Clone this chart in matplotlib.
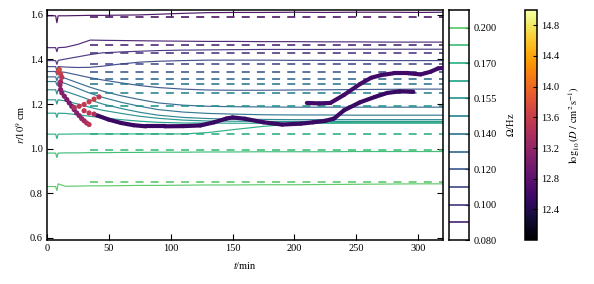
import numpy as np
import matplotlib
matplotlib.use("Agg")
import matplotlib.pyplot as plt
from matplotlib.collections import LineCollection
from matplotlib.colors import Normalize
from matplotlib.cm import ScalarMappable

plt.rcParams["font.family"] = "serif"
plt.rcParams["font.serif"] = ["Liberation Serif", "DejaVu Serif"]
plt.rcParams["mathtext.fontset"] = "stix"

# --- data ---
omega = [0.080, 0.090, 0.100, 0.110, 0.120, 0.130, 0.140, 0.1475,
         0.155, 0.1625, 0.170, 0.185, 0.200]

t_grid = [0, 7, 8, 9, 15, 25, 35, 45, 60, 75, 90, 110, 130, 150,
          175, 200, 225, 250, 275, 300, 320]

r_lines = [
    [1.596, 1.596, 1.565, 1.596, 1.596, 1.597, 1.598, 1.598, 1.599, 1.600, 1.603,
     1.607, 1.610, 1.611, 1.611, 1.612, 1.611, 1.612, 1.612, 1.611, 1.612],
    [1.453, 1.453, 1.435, 1.453, 1.455, 1.468, 1.487, 1.486, 1.485, 1.484, 1.483,
     1.482, 1.481, 1.481, 1.480, 1.480, 1.479, 1.479, 1.478, 1.478, 1.478],
    [1.395, 1.395, 1.378, 1.396, 1.402, 1.412, 1.422, 1.430, 1.434, 1.437, 1.440,
     1.442, 1.443, 1.444, 1.445, 1.445, 1.445, 1.446, 1.446, 1.446, 1.446],
    [1.368, 1.368, 1.350, 1.368, 1.366, 1.364, 1.365, 1.370, 1.380, 1.388, 1.392,
     1.395, 1.397, 1.397, 1.397, 1.396, 1.396, 1.396, 1.395, 1.395, 1.395],
    [1.346, 1.346, 1.330, 1.346, 1.342, 1.330, 1.318, 1.308, 1.295, 1.283, 1.274,
     1.267, 1.263, 1.262, 1.262, 1.263, 1.264, 1.265, 1.266, 1.267, 1.267],
    [1.322, 1.322, 1.305, 1.322, 1.315, 1.295, 1.275, 1.258, 1.237, 1.220, 1.205,
     1.195, 1.190, 1.188, 1.187, 1.186, 1.186, 1.186, 1.186, 1.186, 1.186],
    [1.301, 1.301, 1.285, 1.301, 1.292, 1.270, 1.248, 1.230, 1.208, 1.190, 1.175,
     1.164, 1.158, 1.155, 1.152, 1.151, 1.151, 1.150, 1.150, 1.150, 1.150],
    [1.264, 1.264, 1.245, 1.264, 1.257, 1.238, 1.218, 1.200, 1.180, 1.163, 1.150,
     1.140, 1.135, 1.132, 1.131, 1.130, 1.130, 1.130, 1.130, 1.130, 1.130],
    [1.219, 1.219, 1.200, 1.219, 1.214, 1.200, 1.185, 1.172, 1.158, 1.145, 1.136,
     1.128, 1.124, 1.123, 1.122, 1.122, 1.122, 1.122, 1.122, 1.122, 1.122],
    [1.159, 1.159, 1.140, 1.159, 1.158, 1.152, 1.145, 1.138, 1.130, 1.123, 1.118,
     1.115, 1.115, 1.114, 1.114, 1.114, 1.114, 1.114, 1.114, 1.114, 1.114],
    [1.065, 1.065, 1.045, 1.065, 1.065, 1.066, 1.066, 1.066, 1.066, 1.066, 1.066,
     1.066, 1.072, 1.085, 1.100, 1.111, 1.116, 1.118, 1.118, 1.118, 1.118],
    [0.980, 0.980, 0.960, 0.980, 0.981, 0.981, 0.982, 0.982, 0.983, 0.983, 0.984,
     0.984, 0.985, 0.985, 0.986, 0.986, 0.986, 0.987, 0.987, 0.987, 0.987],
    [0.830, 0.830, 0.812, 0.842, 0.831, 0.832, 0.833, 0.833, 0.834, 0.835, 0.835,
     0.836, 0.837, 0.837, 0.838, 0.838, 0.839, 0.840, 0.841, 0.842, 0.842],
]

# dashed reference radii (None where no dashed line is visible)
r_dashed = [1.590, 1.465, 1.428, 1.380, 1.344, 1.312, 1.289, 1.249, 1.192,
            None, 1.066, 0.995, 0.852]
t_dashed = [35, 320]

# early scattered points (high diffusion)
t_early = [9, 10, 11, 12, 11, 10.5, 11, 12, 14, 16, 18, 20, 22, 24, 26, 28, 30, 32, 34,
           22, 26, 30, 34, 38, 42, 30, 34, 38]
r_early = [1.345, 1.355, 1.335, 1.320, 1.300, 1.285, 1.265, 1.250, 1.235, 1.220, 1.205,
           1.190, 1.175, 1.160, 1.148, 1.135, 1.125, 1.115, 1.108,
           1.185, 1.190, 1.198, 1.210, 1.222, 1.232, 1.170, 1.160, 1.155]
logD_early = [13.65, 13.75, 13.6, 13.5, 13.3, 13.2, 13.1, 13.1, 13.05, 13.0, 13.0,
              13.0, 13.05, 13.1, 13.1, 13.2, 13.3, 13.4, 13.5,
              13.4, 13.5, 13.55, 13.6, 13.6, 13.5, 13.5, 13.5, 13.4]

# main dark track
t_track = [40, 50, 60, 70, 80, 95, 110, 124, 135, 145, 150, 160, 175, 190, 205,
           215, 225, 232, 240, 253, 265, 275, 285, 296]
r_track = [1.150, 1.130, 1.115, 1.105, 1.100, 1.100, 1.101, 1.104, 1.118, 1.135,
           1.140, 1.134, 1.118, 1.108, 1.112, 1.118, 1.125, 1.135, 1.172, 1.208,
           1.232, 1.250, 1.257, 1.255]
logD_track = [12.55] * len(t_track)

# upper late track
t_upper = [210, 220, 229, 240, 253, 262, 270, 280, 292, 302, 310, 316, 320]
r_upper = [1.205, 1.203, 1.205, 1.241, 1.290, 1.318, 1.330, 1.338, 1.338, 1.333,
           1.345, 1.360, 1.362]
logD_upper = [12.6] * len(t_upper)

# --- figure ---
fig = plt.figure(figsize=(5.94, 2.84), dpi=100)
ax = fig.add_axes([0.0791, 0.1549, 0.6667, 0.8099])
ax_om = fig.add_axes([0.7559, 0.1549, 0.0337, 0.8099])
ax_d = fig.add_axes([0.8838, 0.1549, 0.0202, 0.8099])

colors = plt.cm.viridis(np.linspace(0.03, 0.74, len(omega)))

for i, r in enumerate(r_lines):
    ax.plot(t_grid, r, color=colors[i], lw=0.85, alpha=0.95, zorder=2)
    if r_dashed[i] is not None:
        ax.plot(t_dashed, [r_dashed[i]] * 2, color=colors[i], lw=1.15,
                dashes=(5, 4.5), zorder=2)

cmap = plt.cm.inferno
norm = Normalize(12.0, 15.0)

for tt, rr, dd in [(t_track, r_track, logD_track), (t_upper, r_upper, logD_upper)]:
    pts = np.column_stack([tt, rr])
    segs = np.stack([pts[:-1], pts[1:]], axis=1)
    lc = LineCollection(segs, cmap=cmap, norm=norm, linewidths=3.0,
                        capstyle="round", joinstyle="round", zorder=3)
    lc.set_array(np.array(dd[:-1]))
    ax.add_collection(lc)

ax.scatter(t_early, r_early, c=logD_early, cmap=cmap, norm=norm, s=14,
           linewidths=0, zorder=4)

ax.set_xlim(0, 320)
ax.set_ylim(0.59, 1.622)
ax.set_xticks([0, 50, 100, 150, 200, 250, 300])
ax.set_yticks([0.6, 0.8, 1.0, 1.2, 1.4, 1.6])
ax.set_yticklabels([f"{v:.1f}" for v in [0.6, 0.8, 1.0, 1.2, 1.4, 1.6]])
ax.tick_params(direction="in", top=True, right=True, length=4, width=0.8,
               labelsize=7.5, pad=3)
ax.set_xlabel("$t$/min", fontsize=7.5, labelpad=5)
ax.set_ylabel("$r/10^9$ cm", fontsize=7.5, labelpad=2)
for s in ax.spines.values():
    s.set_linewidth(1.1)

# --- Omega legend bar ---
ax_om.set_xlim(0, 1)
ax_om.set_ylim(0, len(omega))
for i in range(1, len(omega)):
    ax_om.axhline(i, color=colors[i], lw=1.2)
ax_om.set_xticks([])
ticks = list(range(0, len(omega), 2))
ax_om.set_yticks(ticks)
ax_om.set_yticklabels([f"{omega[k]:.3f}" for k in ticks])
ax_om.yaxis.tick_right()
ax_om.yaxis.set_label_position("right")
ax_om.tick_params(direction="in", length=3, width=0.8, labelsize=7.5, pad=3)
ax_om.set_ylabel(r"$\Omega$/Hz", fontsize=7.5, labelpad=6)
for s in ax_om.spines.values():
    s.set_linewidth(1.1)

# --- diffusion colour bar ---
sm = ScalarMappable(norm=norm, cmap=cmap)
cb = fig.colorbar(sm, cax=ax_d)
cb.set_ticks([12.4, 12.8, 13.2, 13.6, 14.0, 14.4, 14.8])
cb.set_ticklabels([f"{v:.1f}" for v in [12.4, 12.8, 13.2, 13.6, 14.0, 14.4, 14.8]])
cb.ax.tick_params(direction="in", length=3, width=0.8, labelsize=7.5, pad=3)
cb.outline.set_linewidth(1.1)
cb.set_label(r"$\log_{10}(D\ /\ \mathrm{cm}^2\,\mathrm{s}^{-1})$", fontsize=7.5, labelpad=5)

fig.savefig("out.png", dpi=100)
